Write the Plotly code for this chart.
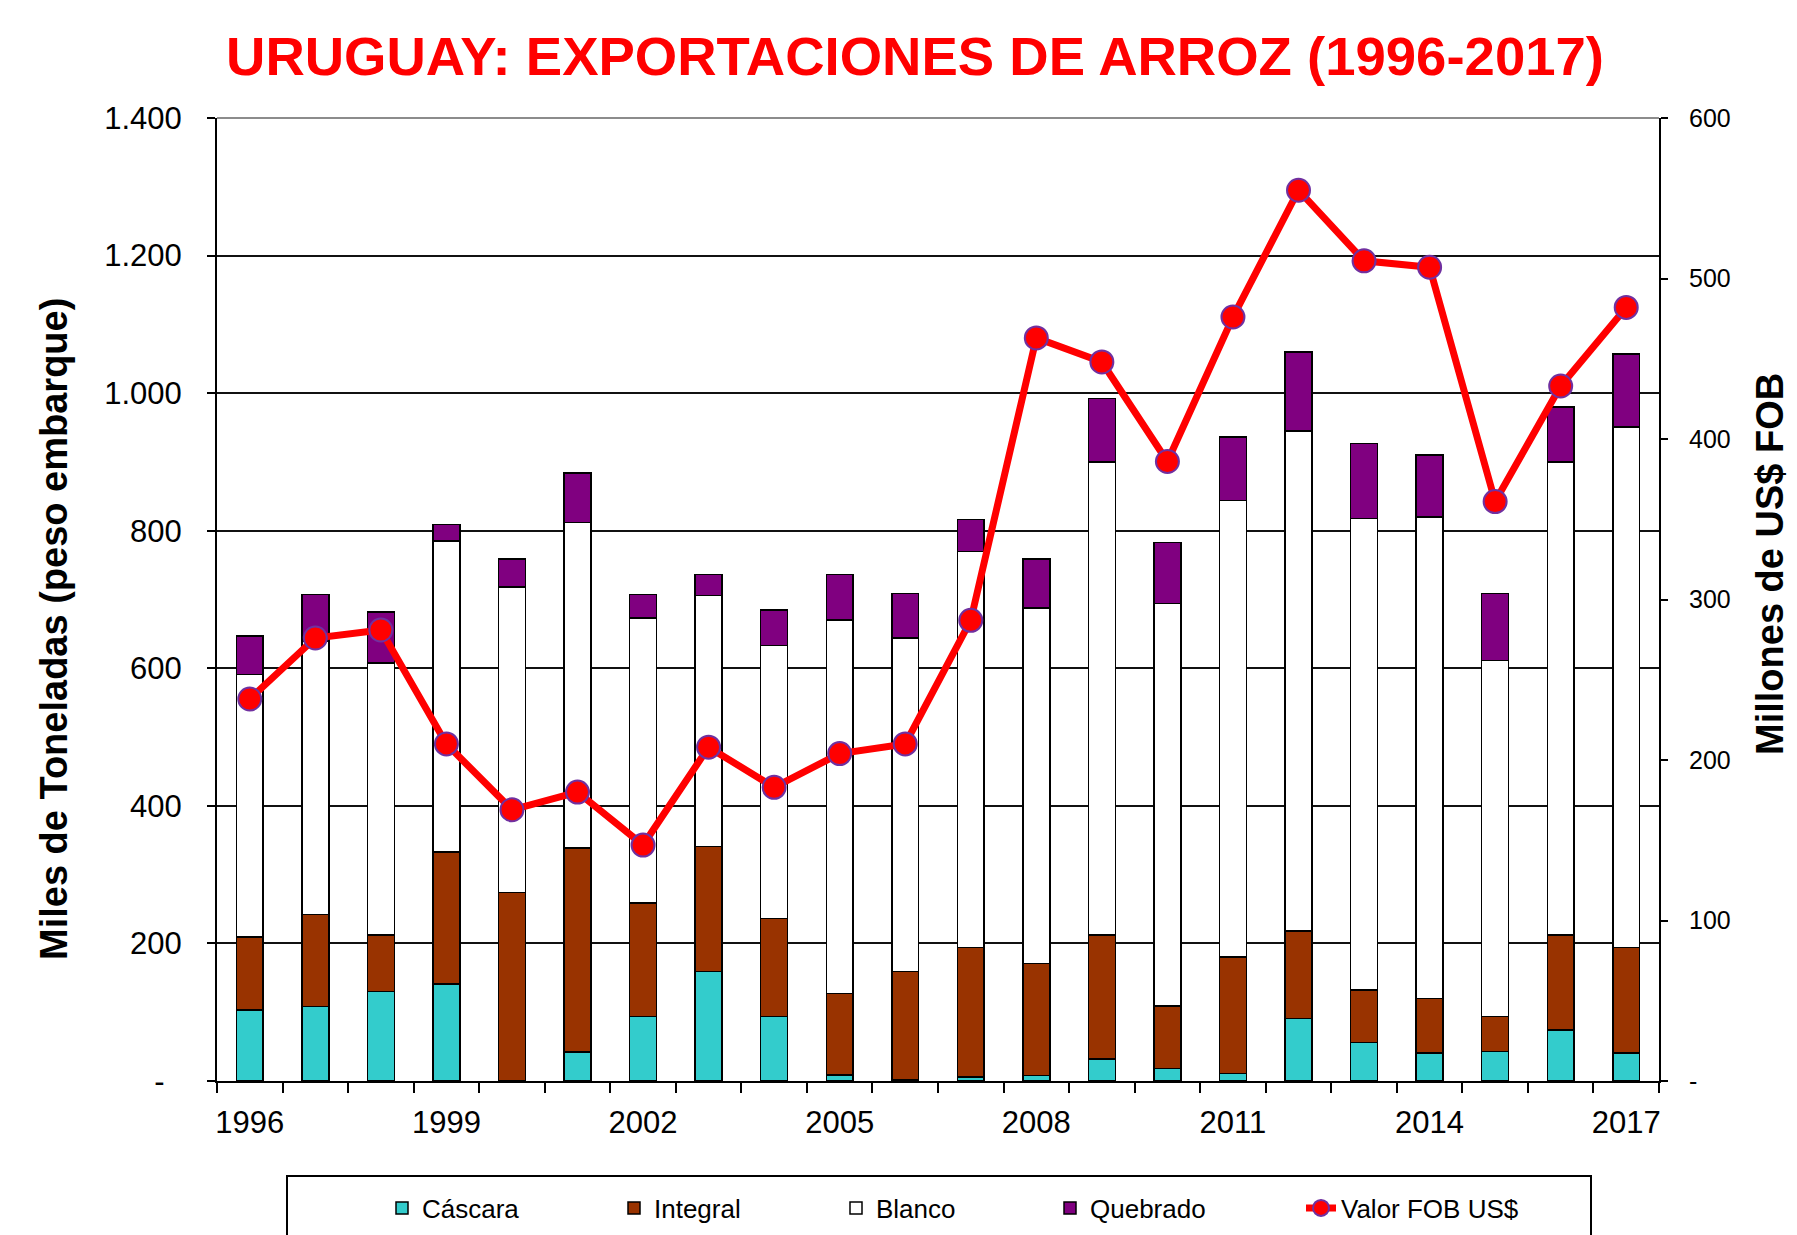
import numpy as np
import plotly.graph_objects as go

# ---------------- data ----------------
years = list(range(1996, 2018))
cascara = [103, 108, 130, 141, 0, 42, 94, 159, 94, 9, 2, 6, 8, 32, 18, 11, 91, 56, 41, 43, 74, 41]
integral = [106, 134, 82, 192, 274, 297, 165, 182, 142, 118, 157, 188, 163, 180, 91, 169, 127, 76, 79, 51, 138, 153]
blanco = [382, 398, 396, 452, 444, 473, 414, 365, 397, 543, 485, 576, 517, 688, 585, 664, 727, 686, 700, 517, 688, 757]
quebrado = [56, 67, 74, 24, 41, 72, 34, 30, 52, 66, 65, 46, 71, 92, 89, 92, 115, 109, 90, 98, 80, 106]
valor_fob = [238, 276, 281, 210, 169, 180, 147, 208, 183, 204, 210, 287, 463, 448, 386, 476, 555, 511, 507, 361, 433, 482]

year_labels = [1996, 1999, 2002, 2005, 2008, 2011, 2014, 2017]
left_ticks = [0, 200, 400, 600, 800, 1000, 1200, 1400]
right_ticks = [0, 100, 200, 300, 400, 500, 600]

FONT = "Liberation Sans, Arial, sans-serif"

def es_fmt(v):
    return f"{v:,}".replace(",", ".")

left_text = ["-\u00a0\u00a0"] + [es_fmt(v) for v in left_ticks[1:]]
right_text = ["-"] + [str(v) for v in right_ticks[1:]]

W, H = 1797, 1235
L, R, T, B = 217, 1659, 118, 1081  # plot area in px

def px_x(p):
    return (p - L) / (R - L)

def px_y(p):
    return (B - p) / (B - T)

fig = go.Figure()
bar_line = dict(color="black", width=1.5)
series = [
    ("Cáscara", cascara, "#33CCCC", "legend", 382),
    ("Integral", integral, "#993300", "legend2", 614),
    ("Blanco", blanco, "#FFFFFF", "legend3", 836),
    ("Quebrado", quebrado, "#800080", "legend4", 1050),
]
for name, vals, col, lg, _ in series:
    fig.add_trace(go.Bar(x=years, y=vals, name=name, width=0.41, legend=lg,
                         marker=dict(color=col, line=bar_line)))

fig.add_trace(go.Scatter(
    x=years, y=valor_fob, name="Valor FOB US$", yaxis="y2", legend="legend5",
    mode="lines+markers",
    line=dict(color="#FF0000", width=7),
    marker=dict(size=23, color="#FF0000", line=dict(color="#7030A0", width=2)),
))

boundaries = list(np.arange(years[0] - 0.5, years[-1] + 1.0, 1.0))

legend_common = dict(orientation="h", xanchor="left", yanchor="middle",
                     y=px_y(1208), font=dict(size=26, family=FONT, color="black"),
                     bgcolor="rgba(0,0,0,0)", borderwidth=0)
legend_x = [s[4] for s in series] + [1301]
legend_keys = ["legend", "legend2", "legend3", "legend4", "legend5"]
legend_layout = {k: dict(legend_common, x=px_x(x)) for k, x in zip(legend_keys, legend_x)}

fig.update_layout(
    width=W, height=H,
    margin=dict(l=L, r=W - R, t=T, b=H - B, pad=0, autoexpand=False),
    paper_bgcolor="white", plot_bgcolor="white",
    barmode="stack",
    font=dict(family=FONT, color="black"),
    title=dict(text="<b>URUGUAY: EXPORTACIONES DE ARROZ (1996-2017)</b>",
               x=915 / W, xref="container", xanchor="center",
               y=1 - 55.5 / H, yref="container", yanchor="middle",
               font=dict(family=FONT, size=54.5, color="#FF0000")),
    xaxis=dict(
        range=[years[0] - 0.5, years[-1] + 0.5],
        tickmode="array", tickvals=year_labels, ticktext=[str(v) for v in year_labels],
        ticks="", showgrid=False, zeroline=False,
        showline=True, linecolor="black", linewidth=2,
        tickfont=dict(size=31, family=FONT),
        ticklabelstandoff=13,
        minor=dict(tickmode="array", tickvals=boundaries, ticks="outside",
                   ticklen=10, tickwidth=2, tickcolor="black", showgrid=False),
    ),
    yaxis=dict(
        range=[0, 1400], tickmode="array", tickvals=left_ticks, ticktext=left_text,
        showgrid=True, gridcolor="#111111", gridwidth=2, zeroline=False,
        showline=True, linecolor="black", linewidth=2,
        ticks="outside", ticklen=8, tickwidth=2, tickcolor="black",
        tickfont=dict(size=31, family=FONT),
        ticklabelstandoff=19,
    ),
    yaxis2=dict(
        range=[0, 600], overlaying="y", side="right", anchor="x",
        tickmode="array", tickvals=right_ticks, ticktext=right_text,
        showgrid=False, zeroline=False,
        showline=True, linecolor="black", linewidth=2,
        ticks="outside", ticklen=7, tickwidth=2, tickcolor="black",
        tickfont=dict(size=25, family=FONT),
        ticklabelstandoff=16,
    ),
    showlegend=True,
    annotations=[
        dict(text="<b>Miles de Toneladas (peso embarque)</b>", textangle=-90,
             xref="paper", yref="paper", x=px_x(54), y=px_y(629),
             xanchor="center", yanchor="middle", showarrow=False,
             font=dict(size=38, family=FONT, color="black")),
        dict(text="<b>Millones de US$ FOB</b>", textangle=-90,
             xref="paper", yref="paper", x=px_x(1770), y=px_y(564),
             xanchor="center", yanchor="middle", showarrow=False,
             font=dict(size=38, family=FONT, color="black")),
    ],
    shapes=[
        # top frame line of the plot area
        dict(type="line", xref="paper", yref="paper", x0=0, x1=1, y0=1, y1=1,
             line=dict(color="#8c8c8c", width=2), layer="below"),
        # legend frame (extends past the bottom edge, as in the original)
        dict(type="rect", xref="paper", yref="paper",
             x0=px_x(287), x1=px_x(1591), y0=px_y(1176), y1=px_y(1250),
             line=dict(color="black", width=2), fillcolor="rgba(0,0,0,0)", layer="above"),
    ],
    **legend_layout,
)

fig.write_html("out.html", config={"displayModeBar": False},
               post_script="document.body.style.margin='0';document.body.style.overflow='hidden';")
